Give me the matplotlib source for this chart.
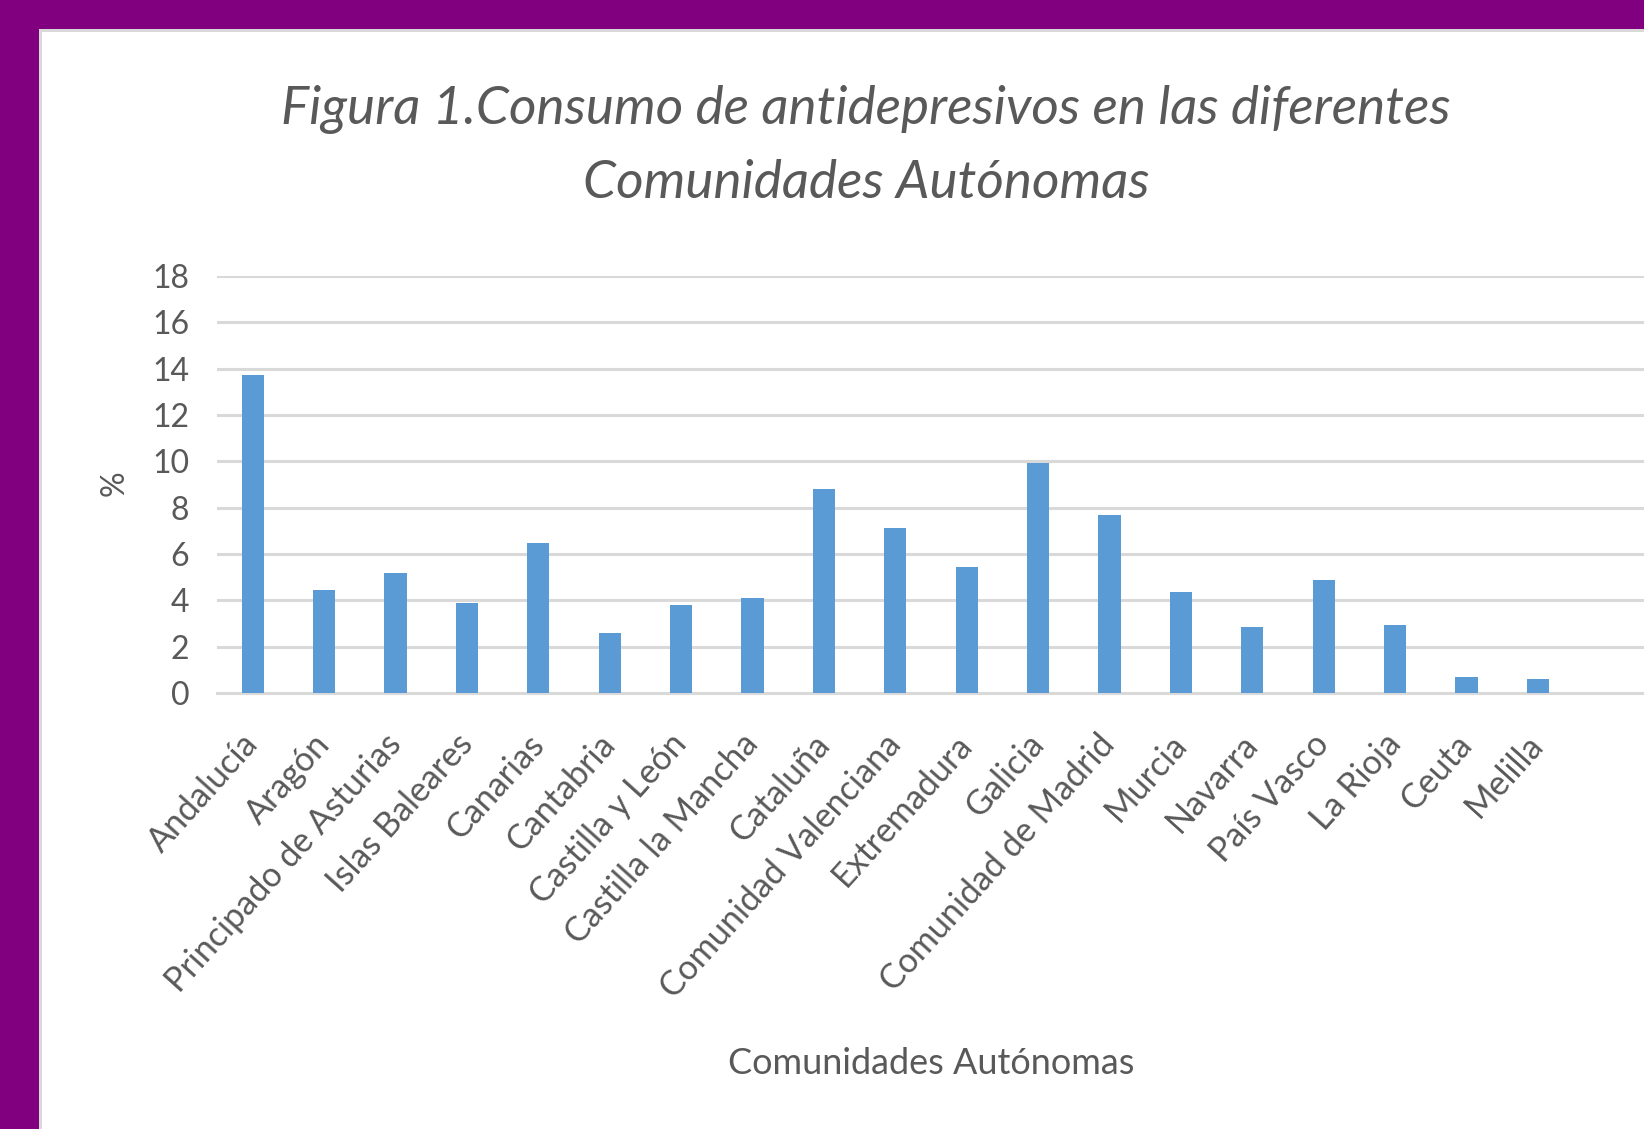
import matplotlib
matplotlib.use("Agg")
import matplotlib.pyplot as plt
from matplotlib.patches import Rectangle

categories = ["Andalucía", "Aragón", "Principado de Asturias", "Islas Baleares",
              "Canarias", "Cantabria", "Castilla y León", "Castilla la Mancha",
              "Cataluña", "Comunidad Valenciana", "Extremadura", "Galicia",
              "Comunidad de Madrid", "Murcia", "Navarra", "País Vasco",
              "La Rioja", "Ceuta", "Melilla"]
values = [13.72, 4.44, 5.19, 3.90, 6.48, 2.59, 3.80, 4.08, 8.80, 7.12,
          5.44, 9.91, 7.68, 4.34, 2.84, 4.88, 2.94, 0.71, 0.60]
yticks = [0, 2, 4, 6, 8, 10, 12, 14, 16, 18]
title = "Figura 1.Consumo de antidepresivos en las diferentes\nComunidades Autónomas"
xlabel = "Comunidades Autónomas"
ylabel = "%"

W, H = 1644, 1129
plt.rcParams['font.family'] = ['Lato', 'DejaVu Sans']
fig = plt.figure(figsize=(W / 100, H / 100), dpi=100)
fig.patch.set_facecolor("#800080")

# white chart panel with light shadow edge
fig.patches.append(Rectangle((39 / W, -0.1), 2.0, (H - 29) / H + 0.1,
                             transform=fig.transFigure, facecolor="#d9d9d9",
                             edgecolor="none", zorder=-20))
fig.patches.append(Rectangle((42 / W, -0.1), 2.0, (H - 32) / H + 0.1,
                             transform=fig.transFigure, facecolor="white",
                             edgecolor="none", zorder=-10))

ax = fig.add_axes([217 / W, 1 - 693 / H, (1645 - 217) / W, (693 - 276) / H])
ax.set_zorder(5)
ax.set_facecolor("none")
x = list(range(len(categories)))
ax.bar(x, values, width=0.31, color="#5b9bd5", zorder=3)
ax.set_xlim(-0.5, len(categories) + 0.5)
ax.set_ylim(0, 18)
ax.set_yticks(yticks)
ax.set_yticklabels([str(v) for v in yticks])
ax.yaxis.grid(True, color="#d9d9d9", linewidth=2.2, zorder=0)
ax.set_axisbelow(True)
for s in ["top", "right", "left"]:
    ax.spines[s].set_visible(False)
ax.spines["bottom"].set_color("#d9d9d9")
ax.spines["bottom"].set_linewidth(2.2)
ax.tick_params(axis="y", length=0, pad=20, labelsize=23, labelcolor="#595959")
ax.tick_params(axis="x", length=0, pad=33, labelsize=24.5, labelcolor="#595959")
ax.set_xticks(x)
ax.set_xticklabels(categories, rotation=48, ha="right", va="center",
                   rotation_mode="anchor")

fig.text(115 / W, 1 - 483 / H, ylabel, rotation=90, ha="center", va="center",
         fontsize=23, color="#595959")
fig.text(931 / W, 1 - 1063 / H, xlabel, ha="center", va="center",
         fontsize=25.9, color="#595959")
fig.text(866 / W, 1 - 146 / H, title, ha="center", va="center", style="italic",
         fontsize=38.2, color="#595959", linespacing=1.63)

fig.savefig("out.png", dpi=100, facecolor=fig.get_facecolor())
